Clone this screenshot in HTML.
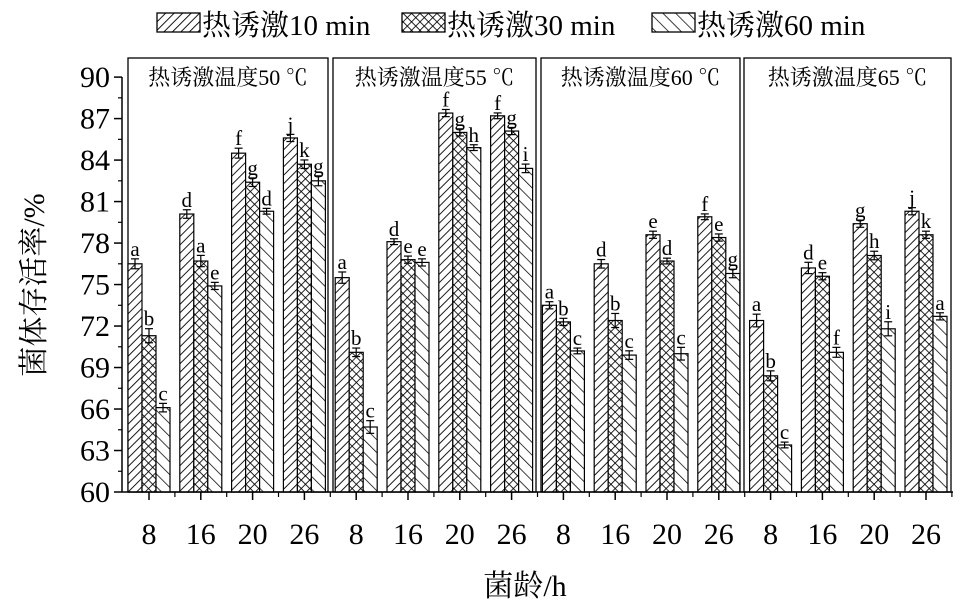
<!DOCTYPE html>
<html><head><meta charset="utf-8"><style>
html,body{margin:0;padding:0;background:#fff;}
svg{display:block;font-family:"Liberation Serif","Noto Serif CJK SC",serif;}
</style></head><body>
<svg id="c" width="975" height="611" viewBox="0 0 975 611" xmlns="http://www.w3.org/2000/svg">
<defs>
<pattern id="p1" width="6" height="6" patternUnits="userSpaceOnUse" patternTransform="rotate(45)"><rect width="6" height="6" fill="#fff"/><line x1="0" y1="0" x2="0" y2="6" stroke="#000" stroke-width="1.8"/></pattern>
<pattern id="p2" width="6" height="6" patternUnits="userSpaceOnUse" patternTransform="rotate(45)"><rect width="6" height="6" fill="#fff"/><line x1="0" y1="0" x2="0" y2="6" stroke="#000" stroke-width="1.7"/><line x1="0" y1="0" x2="6" y2="0" stroke="#000" stroke-width="1.7"/></pattern>
<pattern id="p3" width="9" height="9" patternUnits="userSpaceOnUse" patternTransform="rotate(-45)"><rect width="9" height="9" fill="#fff"/><line x1="0" y1="0" x2="0" y2="9" stroke="#000" stroke-width="1.5"/></pattern>
</defs>
<g id="g"></g>
</svg>
<script>
const NS="http://www.w3.org/2000/svg",g=document.getElementById('g');
function el(t,a,txt){const e=document.createElementNS(NS,t);for(const k in a)e.setAttribute(k,a[k]);if(txt!==undefined)e.textContent=txt;g.appendChild(e);return e;}
const Y=v=>492-(v-60)*13.83;
const leg=[["p1","热诱激10 min",157],["p2","热诱激30 min",402],["p3","热诱激60 min",652]];
leg.forEach(l=>{el('rect',{x:l[2],y:13,width:43,height:19,fill:'url(#'+l[0]+')',stroke:'#000','stroke-width':1.3});el('text',{x:l[2]+45,y:35,'font-size':29},l[1]);});
const boxes=[[128,328],[333,536],[541,740],[744,951]],temps=[50,55,60,65];
boxes.forEach((b,i)=>{el('rect',{x:b[0],y:58,width:b[1]-b[0],height:434,fill:'none',stroke:'#000','stroke-width':1.3});el('text',{x:(b[0]+b[1])/2,y:85,'font-size':22,'text-anchor':'middle'},'热诱激温度'+temps[i]+' ℃');});
const data=[[76.5,71.3,66.1],[80.1,76.7,74.9],[84.5,82.4,80.3],[85.6,83.7,82.5],
[75.5,70.1,64.7],[78.1,76.8,76.6],[87.4,86.0,84.9],[87.2,86.1,83.4],
[73.5,72.3,70.2],[76.5,72.4,69.9],[78.6,76.7,70.0],[79.9,78.4,75.8],
[72.4,68.4,63.4],[76.2,75.6,70.1],[79.4,77.1,71.8],[80.3,78.6,72.7]];
const lets=["abc","dae","fgd","jkg","abc","dee","fgh","fgi","abc","dbc","edc","feg","abc","def","ghi","jka"];
const errs=[[.25,.4,.2],[.2,.3,.15],[.25,.2,.1],[.15,.2,.25],[.3,.2,.35],[.1,.15,.15],[.15,.15,.1],[.1,.15,.2],[.15,.15,.1],[.2,.4,.2],[.15,.1,.35],[.1,.15,.2],[.35,.25,.1],[.3,.15,.25],[.15,.2,.4],[.15,.15,.15]];
const labs=["8","16","20","26"];
for(let i=0;i<16;i++){const cx=149+51.8*i;
 for(let j=0;j<3;j++){const x=cx-21+14*j,v=data[i][j],y=Y(v),e=errs[i][j]*13.83+1.5;
  el('rect',{x:x,y:y,width:14,height:492-y,fill:'url(#p'+(j+1)+')',stroke:'#000','stroke-width':1.2});
  el('line',{x1:x+7,y1:y-e,x2:x+7,y2:y+e,stroke:'#000','stroke-width':1.2});
  el('line',{x1:x+3,y1:y-e,x2:x+11,y2:y-e,stroke:'#000','stroke-width':1.2});
  el('line',{x1:x+3,y1:y+e,x2:x+11,y2:y+e,stroke:'#000','stroke-width':1.2});
  el('text',{x:x+7,y:y-e-3,'font-size':21,'text-anchor':'middle'},lets[i][j]);
 }
 el('line',{x1:cx,y1:492,x2:cx,y2:500,stroke:'#000','stroke-width':1.5});
 el('line',{x1:cx+25.9,y1:492,x2:cx+25.9,y2:497,stroke:'#000','stroke-width':1.2});
 el('text',{x:cx,y:544,'font-size':30,'text-anchor':'middle'},labs[i%4]);
}
el('line',{x1:122,y1:492,x2:953,y2:492,stroke:'#000','stroke-width':1.5});
el('line',{x1:122,y1:77,x2:122,y2:492,stroke:'#000','stroke-width':1.5});
for(let v=60;v<=90;v+=3){const y=Y(v);el('line',{x1:114,y1:y,x2:122,y2:y,stroke:'#000','stroke-width':1.5});
 el('text',{x:110,y:y+10,'font-size':30,'text-anchor':'end'},v);
 if(v<90){el('line',{x1:118,y1:Y(v+1.5),x2:122,y2:Y(v+1.5),stroke:'#000','stroke-width':1.2});}}
el('text',{x:0,y:0,'font-size':30,'text-anchor':'middle',transform:'translate(44,285) rotate(-90)'},'菌体存活率/%');
el('text',{x:525,y:596,'font-size':30,'text-anchor':'middle'},'菌龄/h');
</script>
</body></html>
